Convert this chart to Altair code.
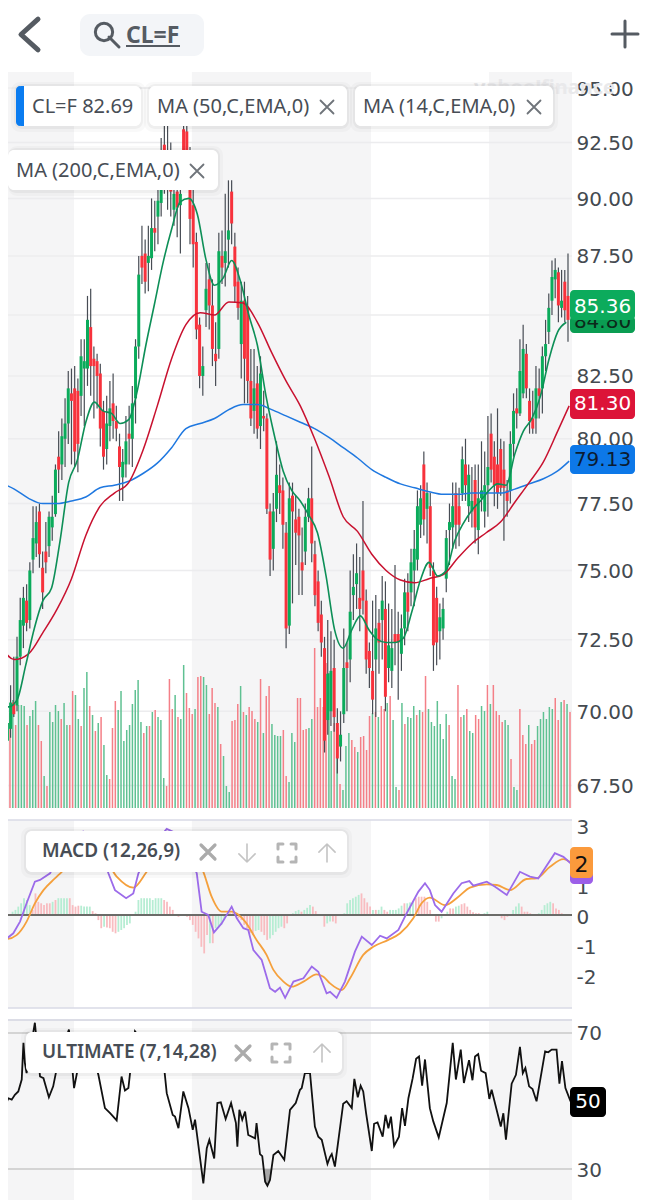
import altair as alt
import numpy as np
import pandas as pd

# ---------- candles (price, USD) ----------
opens = [70.0,69.9,69.0,69.4,70.3,70.2,71.9,73.0,73.9,73.2,
 75.4,76.0,77.2,75.1,75.7,75.9,76.6,77.1,79.3,79.0,
 80.0,80.6,81.8,82.0,81.9,81.7,82.8,82.8,84.5,83.2,
 83.1,82.6,81.1,79.6,80.5,81.4,80.7,79.7,78.5,79.0,
 80.2,80.0,81.6,83.7,87.5,87.6,87.2,87.4,88.7,89.2,
 89.8,92.4,90.8,91.8,89.5,90.3,89.7,93.1,93.0,90.6,
 89.7,88.1,84.6,82.5,85.2,86.5,85.4,83.4,83.6,87.5,
 87.2,88.2,90.3,87.9,86.4,83.8,85.6,85.3,82.3,81.1,
 82.2,80.5,80.9,80.8,77.2,75.8,77.3,78.2,78.0,76.4,
 73.0,77.8,76.9,77.0,75.3,75.7,77.0,77.7,75.6,74.6,
 73.4,72.2,69.7,70.0,71.5,69.6,68.8,69.9,71.7,71.8,
 74.1,74.5,74.0,75.0,73.9,72.1,71.4,71.8,73.1,73.2,
 73.6,71.5,71.4,72.7,72.7,72.0,72.9,74.2,74.2,75.0,
 75.4,76.7,79.0,77.3,77.4,75.0,74.0,72.8,72.9,74.7,
 76.5,76.6,77.9,77.4,77.9,79.0,77.4,77.2,78.4,76.5,
 77.7,77.2,78.2,80.2,79.3,79.0,79.6,78.8,78.0,78.0,
 79.8,81.2,81.0,81.8,83.4,81.5,80.8,80.8,82.0,82.0,
 83.3,84.3,85.6,86.5,86.8,85.3,86.4,85.8]
highs = [70.9,70.4,70.0,70.9,71.9,72.6,74.0,74.4,74.5,75.3,
 77.4,77.4,77.5,75.7,76.8,77.2,77.8,79.0,80.3,80.8,
 81.6,82.7,82.8,82.9,82.4,84.0,84.0,85.8,86.1,83.7,
 83.4,83.0,81.5,81.7,82.3,82.6,81.3,80.2,79.6,80.9,
 81.3,82.1,84.0,87.5,88.8,88.2,88.8,90.0,89.9,90.9,
 92.7,93.3,93.8,92.5,91.5,91.3,91.0,95.0,94.0,92.3,
 90.5,88.5,84.9,83.7,87.2,87.2,86.5,84.7,88.5,88.6,
 90.2,90.8,90.8,88.5,87.0,86.4,86.4,85.8,83.6,83.6,
 82.9,83.3,81.9,81.0,77.5,77.9,79.9,79.0,78.5,76.8,
 78.3,78.3,77.8,77.3,76.6,77.5,78.1,79.7,76.1,75.0,
 73.9,72.6,73.2,72.8,72.5,70.1,70.0,72.9,72.4,75.0,
 75.6,76.0,75.5,77.6,74.3,72.4,73.9,74.1,73.6,74.8,
 74.6,73.8,73.6,75.2,73.5,73.4,74.7,74.9,75.8,76.5,
 78.0,78.2,79.5,78.3,77.9,75.3,74.4,73.8,74.0,76.5,
 77.5,78.3,78.3,78.1,79.7,80.0,79.0,78.9,79.0,79.0,
 79.9,79.5,80.9,81.0,79.9,81.2,80.0,79.9,78.4,80.3,
 81.8,82.0,84.0,84.6,83.8,82.0,81.9,82.9,82.8,83.7,
 84.8,85.9,87.3,87.4,87.0,86.9,86.9,87.6]
lows = [68.9,67.7,68.4,69.1,69.8,70.0,71.6,72.2,72.8,72.9,
 74.9,75.5,75.1,73.6,74.9,75.5,76.1,77.0,77.9,78.4,
 78.9,79.8,79.0,78.9,78.7,80.9,80.5,82.1,81.7,80.8,
 81.2,79.7,78.8,79.0,79.9,80.0,79.9,77.6,77.6,78.5,
 79.0,78.9,80.6,83.2,86.3,85.9,86.0,86.9,87.7,88.0,
 89.2,90.2,89.5,89.2,88.8,88.3,87.6,90.5,90.8,88.0,
 87.0,84.0,82.0,81.7,84.5,84.4,82.9,82.1,83.2,86.3,
 86.2,87.0,88.0,85.5,84.8,82.4,81.4,81.4,80.5,80.2,
 80.0,79.6,80.3,77.1,74.8,75.0,76.8,77.1,75.8,72.2,
 72.7,73.8,75.2,74.1,74.1,75.2,76.8,75.3,73.7,72.8,
 71.9,68.6,69.2,69.5,69.3,67.9,68.3,69.6,70.0,71.0,
 73.2,73.6,72.8,73.4,71.3,70.8,69.9,69.8,71.3,71.8,
 70.0,71.0,70.8,71.6,70.4,71.4,72.3,72.8,73.7,73.7,
 75.0,76.2,76.3,76.0,74.8,71.4,71.6,71.8,72.5,74.2,
 75.2,75.8,75.8,75.9,77.6,77.6,76.8,76.6,76.0,75.6,
 77.2,76.6,77.0,78.3,77.4,77.3,77.8,76.1,77.0,77.5,
 79.3,80.4,80.9,81.6,81.6,80.2,80.2,80.2,80.8,81.0,
 82.7,83.8,85.0,85.7,84.7,84.9,84.7,83.9]
closes = [69.3,68.2,69.6,70.3,69.9,71.9,73.2,74.0,73.1,75.0,
 76.2,76.8,75.6,74.2,75.3,77.0,77.0,78.8,78.8,80.1,
 80.6,82.0,81.5,79.5,79.8,83.3,83.1,84.8,82.9,82.9,
 82.5,80.4,79.3,80.6,81.2,80.7,80.4,78.9,79.1,79.9,
 80.0,81.4,83.7,86.7,87.0,86.4,87.5,88.7,88.5,89.9,
 91.0,91.0,92.1,90.3,90.2,89.6,90.2,91.5,91.8,89.1,
 88.0,84.4,82.5,82.9,86.1,85.4,83.6,83.1,87.7,87.0,
 87.7,88.6,88.9,86.2,85.3,85.6,83.2,82.3,80.8,82.0,
 80.4,82.6,80.8,77.3,75.4,77.2,78.6,77.9,76.7,72.9,
 77.7,77.2,76.4,76.3,75.0,77.0,77.7,76.0,74.1,73.1,
 72.4,69.0,71.3,71.4,69.8,68.4,69.2,71.5,71.5,73.5,
 74.4,74.9,73.6,73.9,71.8,71.5,70.4,72.9,72.4,73.9,
 70.5,72.3,72.2,72.4,72.4,72.9,74.2,73.5,75.3,75.8,
 77.4,77.7,76.9,77.9,75.1,72.3,72.4,73.3,73.6,76.2,
 76.8,77.4,76.7,76.7,79.2,78.2,78.6,77.6,76.6,77.7,
 78.0,78.2,78.9,78.8,78.2,77.9,78.1,78.1,77.6,79.8,
 81.1,81.0,82.7,83.6,82.0,80.7,80.4,82.0,81.7,83.3,
 83.8,85.3,86.6,86.9,85.4,85.6,85.2,84.8]

# ---------- volume (thousands; negative = down day) ----------
volume_left = [-108,-108,103,-95,108,-83,103,103,102,-83,92,98,107,-83,-67,32,-22,96,86,103,
 97,-89,105,83,-83,-117,113,89,-82,120,136,-102,93,-77,85,-91,63,33,-29,-80,
 -107,98,117,67,78,83,104,118,128,86,-75,82,-82,96,-98,91,88,30,-22,-129,
 -99,113,-91,89,143,-115,-100,-94,99,-131,-132,131,123,-94,-120,-105,101,-64,52,22,
 16,-87,-88,-104,122,-96,93,-101,-97,-89,86,-129,75,-112,-122,84,73,72,72,-78,
 -32,26,75,66,-110,-110,-78,-79,80,89,-160,-101,-110,-101,-145,135]
volume_right = [77,-85,77,-24,18,62,75,-68,-61,56,-71,-72,-58,-92,95,-96,91,-102,-99,105,
 -112,88,21,-18,105,-84,91,90,102,-93,98,-96,-132,99,86,82,107,84,69,94,
 -83,32,29,-123,-91,93,-99,77,75,-93,-89,102,97,-123,104,-123,-97,-93,-86,88,
 83,-49,21,18,-99,-73,-64,83,-64,-68,82,89,96,89,101,99,-110,-88,106,-108,104,-96]

# ---------- moving averages ----------
ema200 = [78.3,78.05,77.7,77.5,77.5,77.6,77.75,78.1,78.2,78.35,78.65,79.05,79.65,80.4,80.6,80.8,81.15,81.35,81.35,81.15,
 80.9,80.65,80.4,80.05,79.65,79.25,78.8,78.5,78.25,78.1,77.95,77.85,77.85,77.9,77.9,77.9,78.05,78.25,78.45,78.75,79.13]
ema50 = [72.3,71.8,72.0,72.75,73.6,74.7,76.3,77.4,77.9,78.3,79.55,81.3,83.2,84.6,85.1,85.0,85.55,85.5,84.7,83.45,
 82.3,81.3,80.0,78.55,77.0,76.45,75.6,75.0,74.65,74.55,74.7,74.85,75.45,76.0,76.4,76.8,77.55,78.3,79.1,80.3,81.3]
ema14 = [70.5,70.15,70.4,71.6,72.9,73.9,74.35,76.1,78.3,79.15,80.65,81.45,81.1,81.0,80.6,80.75,81.9,83.75,85.45,87.2,
 88.65,89.85,90.0,89.3,87.35,86.25,86.55,87.3,86.45,85.0,83.75,81.7,80.1,78.75,78.0,77.6,77.05,76.4,74.8,72.85,
 72.2,72.85,73.35,72.85,72.5,72.4,72.4,72.55,73.5,74.65,75.3,74.8,75.0,76.1,76.75,77.25,77.6,78.0,78.25,78.2,
 79.4,80.3,80.8,81.7,83.2,84.3,84.7]

# ---------- MACD ----------
macd_days = [0,1.75,4.66,7,9.3,12.2,14,17.5,19.2,24.5,29.1,33.8,37.9,40.2,44.1,46.6,48.4,53.6,58.3,62.9,
 68.8,70.5,72.8,74.8,77.5,81,82.8,85.1,86.8,88.6,91.5,94.4,96.2,97.9,99.7,102.6,106.1,109,111.3,114.2,
 115.4,117.7,120.6,124.1,126.5,130,132.9,135.2,139.3,142.2,146.3,148.6,150.3,152.1,154.4,158.5,161.4,164.1,165.5,170.2,
 173.1,177.2,181.8,185.3,188.2,194,197,199.9]
macd_vals = [-.69,-.83,-.61,-.22,.39,1.11,1.17,1.39,1.72,2.56,2.78,2.56,1.39,.83,.56,.72,1.39,2.33,2.87,2.67,
 1.39,.11,0,-.58,-.28,.28,-.11,-.44,-.5,-1.17,-1.5,-2.44,-2.56,-2.42,-2.76,-2.22,-2.11,-1.72,-1.89,-2.61,
 -2.56,-2.76,-2.22,-1.22,-.72,-1,-.69,-.78,-.5,.06,.78,1.06,.83,.33,.11,.72,1.06,1.13,.98,1.11,
 .94,.67,1.44,1.28,1.22,2.06,1.94,1.69]
signal_days = [0,2.3,5.8,9.3,12.2,15.2,19.2,21.6,29.1,35,40.8,46.6,51.3,58.3,65.3,71.1,74,77.5,81,85.7,
 89.7,93.2,95.6,99.1,102,106.1,110.7,113.1,115.4,119.5,122.4,127,130.5,135.8,139.9,144.5,147.4,150.3,155.6,160.3,
 164.3,170.2,173.7,178.3,184.1,187.6,192.3,197,199.9]
signal_vals = [-.78,-.8,-.67,-.22,.39,.83,1.22,1.44,2.2,2.1,1.28,.91,1.44,2.4,2.2,1.44,.61,.11,.11,-.22,
 -.83,-1.33,-1.83,-2.22,-2.39,-2.22,-1.98,-2.06,-2.28,-2.5,-2.11,-1.33,-1.06,-.83,-.61,-.11,.39,.58,.33,.61,
 .91,1.02,1.0,.83,1.2,1.22,1.61,1.86,1.72]
hist_vals = [0,0,0,0,.11,.17,.28,.39,.56,.5,
 .33,.17,.72,.44,.39,.33,.39,.39,.44,.5,
 .56,.56,.56,.56,.56,.33,.28,.31,.31,.28,
 .28,.28,.13,.06,-.17,-.44,-.39,-.42,-.44,-.56,
 -.61,-.56,-.5,-.44,-.33,-.28,0,.11,.5,.56,
 .56,.56,.56,.5,.56,.56,.56,.5,.44,.28,
 .17,0,-.06,0,0,-.06,-.17,-.33,-.56,-.78,
 -1.06,-1.28,-.67,-.94,-.94,-.44,-.39,-.33,-.17,0,
 .06,.06,0,-.11,-.17,-.33,-.44,-.61,-.67,-.53,
 -.5,-.56,-.67,-.83,-.78,-.67,-.56,-.44,-.39,-.44,
 -.28,0,.06,.13,.17,.11,.17,.24,.33,.28,
 .13,0,0,-.39,-.28,-.22,-.22,-.28,0,0,
 .06,.39,.5,.56,.61,.67,.72,.56,.42,.28,
 .17,.17,.17,.28,.17,.11,.17,.17,.17,.22,
 .31,.39,.39,.42,.44,.56,.61,.61,.61,.44,
 .17,0,-.22,-.22,-.11,0,.11,.22,.22,.28,
 .31,.36,.39,.28,.17,.09,.06,.06,0,.06,
 .11,0,0,0,0,-.11,-.17,-.06,0,.17,
 .28,.39,.28,.11,.11,.06,0,0,.06,.17,
 .33,.39,.44,.39,.22,.17,.06,0,0,0]
hist_dirs = ("gggggggggg" "grrrrrrrgr" "ggggrrrrgg" "ggrrrrgrrr" "rggggggggg"
             "gggggggrrr" "rrrrrrrrrr" "rrrgrggggg" "rrrrrrrrrg" "grrrgggggr"
             "rggggrgggr" "rrrrggrrrr" "ggggggrrrr" "grggrrgggg" "grgggrrrrr"
             "rrrrgggrrg" "grrrrrrrrg" "gggggrrrrg" "ggrrrrrrgg" "gggrrrrrrr")

# ---------- Ultimate oscillator ----------
ult_days = [0,.6,1.4,2.9,4.1,5.2,6.4,7.6,8.2,8.7,9.3,12.2,14,15.2,17.1,18.6,20,22.1,24.1,25.9,
 28,31.5,34.4,36.7,38.5,40.8,42.5,43.7,44.9,46,47.2,51.3,57.1,58.3,60.4,61.2,62.4,64.1,65.9,67.4,
 68.2,71.1,72.3,73.2,74.9,76,77.2,78.9,80.8,82.5,83,83.7,84.7,85.7,86.8,89.2,89.7,90.9,91.7,92.7,
 93.5,94.4,95.6,97.3,99.4,101.4,103.4,104.9,105.5,106.6,108.4,110.1,111.3,112.5,114.5,115.4,116,117.1,120,121.2,
 123,123.9,125.1,126.1,127,128,130,130.8,132,133.8,134.8,135.8,136.7,137.8,139.5,140.6,141.6,142.8,144.3,145.5,
 146.5,147.6,148.6,150.3,151.5,153.4,156.2,158.3,159.4,161.1,162.2,164,165.2,166.1,167.2,168.2,169.8,171.1,171.9,175.1,
 176,176.9,178.9,180.4,181.8,182.8,183.7,185,186.2,187.6,190.6,191.7,192.9,194.6,195.6,196.5,197.7,199.5]
ult_vals = [56.7,54.8,47.6,50.8,50.4,51.8,52.8,56.3,67.1,61.2,58.2,73,57.2,56.7,51.1,54.3,60.2,66,71,53.8,
 63,66,57.7,47.9,46.4,44.3,57.2,53.1,53.8,62.2,70.5,66,62.2,52.3,45.9,45.4,42,52.8,47.9,41.5,
 44.5,25.8,36.1,38.6,33.1,49.4,49.6,44.7,49.4,43.5,36.6,47.4,44.5,46.9,40,39,43.5,34.4,33.8,26.3,
 25.1,26.8,34.1,35.3,32.7,47.4,49.4,53.3,53.8,58.2,58.2,42.5,39.5,38.6,31.5,33.6,34.4,30.7,49.2,49.9,
 47.9,56.5,51.1,54.5,52.8,46.4,35.3,43.3,43.7,39.5,45.9,42,45.4,36.8,39.5,47.9,42.7,50.8,56.7,62.4,
 63.1,54.5,62.2,47.9,44,39.3,49.4,67.1,56.3,65.1,55.3,62,56.1,63.1,63.8,58.9,58.2,50.6,53.3,42.5,
 46.4,38.6,55.1,57.7,65.9,58.2,59.7,54.3,53.5,49.9,64.6,64.3,65.1,65.1,55.1,61.7,53.8,49.9]
oversold_days = [91.9,92.7,93.5,94.4,95.2]
oversold_vals = [30,26.3,25.1,26.8,30]

# ---------- ticks, bands, labels ----------
price_ticks = [67.5,70,72.5,75,77.5,80,82.5,85,87.5,90,92.5,95]
macd_ticks = [3,1,0,-1,-2]
ult_ticks = [70,30]
band_start = [2.8,67.1,171.0]
band_end = [25.9,129.7,200.0]

GREEN, RED = "#0bab5b", "#f7323c"
WICK = "#474c54"
INK = "#474d55"
FONT, AXF = "Noto Sans", "DejaVu Sans"
W = 564
XS = alt.Scale(domain=[2.8, 200], nice=False, zero=False)
PY = alt.Scale(type="log", domain=[66.76, 95.75], nice=False)
MY = alt.Scale(domain=[-3.1, 3.167], nice=False, zero=False)
UY = alt.Scale(domain=[20.9, 73.8], nice=False, zero=False)
X = lambda f: alt.X(f, scale=XS, axis=None)

one = pd.DataFrame({"k": [0]})

def box(x0, x1, y0, y1, color, radius=0, opacity=1.0):
    return alt.Chart(one).mark_rect(color=color, cornerRadius=radius, opacity=opacity).encode(
        x=alt.value(x0), x2=alt.value(x1), y=alt.value(y0), y2=alt.value(y1))

def label(x, y, s, size=20, color=INK, weight="normal", font=FONT, align="left"):
    return alt.Chart(one).mark_text(text=s, align=align, baseline="middle", fontSize=size,
                                    color=color, fontWeight=weight, font=font).encode(
        x=alt.value(x), y=alt.value(y))

def icon(x, y, path, half, color, width=2.0):
    return alt.Chart(one).mark_point(shape=path, size=(2 * half) ** 2, filled=False, color=color,
                                     strokeWidth=width, opacity=1, strokeCap="round", strokeJoin="round").encode(
        x=alt.value(x), y=alt.value(y))

def pill(x0, x1, y0, y1):
    return [box(max(x0 - 5, 0), x1 + 5, y0 - 4, y1 + 6, "#000000", 9, 0.025),
            box(max(x0 - 2, 0), x1 + 2, y0 - 2, y1 + 3, "#000000", 8, 0.04),
            box(x0, x1, y0, y1, "#ffffff", 6)]

CROSS = "M-1,-1L1,1M-1,1L1,-1"
CHEV = "M0.5,-0.9L-0.5,0L0.5,0.9"
PLUS = "M-1,0L1,0M0,-1L0,1"
DOWN = "M0,-1L0,1M-0.9,0.1L0,1L0.9,0.1"
UP = "M0,1L0,-1M-0.9,-0.1L0,-1L0.9,-0.1"
FRAME = "M-1,-0.45L-1,-1L-0.45,-1M0.45,-1L1,-1L1,-0.45M1,0.45L1,1L0.45,1M-0.45,1L-1,1L-1,0.45"

bands = pd.DataFrame({"a": band_start, "b": band_end})
def band_layer():
    return alt.Chart(bands).mark_rect(color="#f5f5f6", clip=True).encode(x=X("a:Q"), x2="b:Q")

# ---------- frames ----------
candle_days = np.linspace(0.35, 198.6, len(closes))
df_c = pd.DataFrame({"day": candle_days, "o": opens, "h": highs, "l": lows, "c": closes})
df_c["col"] = np.where(df_c.c >= df_c.o, GREEN, RED)

vols = volume_left + volume_right
vol_days = np.concatenate([np.linspace(0.5, 115, len(volume_left)), np.linspace(115.8, 199.3, len(volume_right))])
df_v = pd.DataFrame({"day": vol_days, "v": np.abs(vols),
                     "col": ["#5fc192" if v > 0 else "#f47f87" for v in vols]})

df_200 = pd.DataFrame({"day": list(range(0, 200, 5)) + [199], "v": ema200})
df_50 = pd.DataFrame({"day": list(range(0, 200, 5)) + [199], "v": ema50})
df_14 = pd.DataFrame({"day": [3 * k for k in range(len(ema14))], "v": ema14})

# ---------- header ----------
header = alt.layer(
    icon(21.5, 26.5, CHEV, 17, "#555b62", 5),
    box(72, 196, 6, 48, "#f3f5f8", 10),
    alt.Chart(one).mark_point(shape="circle", size=300, filled=False, color="#555b62", strokeWidth=3, opacity=1).encode(
        x=alt.value(96), y=alt.value(24)),
    icon(106, 34, "M-1,-1L1,1", 5, "#555b62", 3),
    label(118, 28, "CL=F", 23, "#555b62", "bold"),
    box(118, 172, 37, 39, "#555b62"),
    icon(617, 26, PLUS, 13, "#555b62", 3),
).properties(width=W, height=52)

# ---------- price panel ----------
def py(f, **kw):
    return alt.Y(f, scale=PY, axis=None, **kw)

price_layers = [
    band_layer(),
    alt.Chart(pd.DataFrame({"t": price_ticks})).mark_rule(color="#ececee", strokeWidth=1.5).encode(
        y=alt.Y("t:Q", scale=PY, axis=alt.Axis(orient="right", values=price_ticks, format=".2f", grid=False,
                                               domain=False, ticks=False, labelFont=AXF, labelFontSize=20,
                                               labelColor="#444a50", labelPadding=4, labelOffset=1, title=None))),
    label(607, 16, "yahoo!finance", 20, "#e9e9eb", "bold", FONT, "right"),
    alt.Chart(df_v).mark_rule(strokeWidth=1.5, clip=True).encode(
        x=X("day:Q"), y=alt.Y("v:Q", scale=alt.Scale(domain=[0, 736], nice=False), axis=None),
        y2=alt.datum(0), color=alt.Color("col:N", scale=None)),
    alt.Chart(df_c).mark_rule(color=WICK, strokeWidth=1.2, clip=True).encode(x=X("day:Q"), y=py("l:Q"), y2="h:Q"),
    alt.Chart(df_c).mark_rule(strokeWidth=3, clip=True).encode(
        x=X("day:Q"), y=py("o:Q"), y2="c:Q", color=alt.Color("col:N", scale=None)),
    alt.Chart(df_200).mark_line(color="#1f78e0", strokeWidth=1.5, clip=True, interpolate="monotone").encode(x=X("day:Q"), y=py("v:Q")),
    alt.Chart(df_50).mark_line(color="#c8112f", strokeWidth=1.5, clip=True, interpolate="monotone").encode(x=X("day:Q"), y=py("v:Q")),
    alt.Chart(df_14).mark_line(color="#0d8f57", strokeWidth=1.6, clip=True, interpolate="monotone").encode(x=X("day:Q"), y=py("v:Q")),
    # last-value tags
    box(562, 627, 244, 261, "#0a9d52", 4),
    label(594.5, 250, "84.80", 20, "#0b2a1a", font=AXF, align="center"),
    box(562, 627, 218, 248, "#0cab5c", 4),
    label(594.5, 235, "85.36", 20, "#ffffff", font=AXF, align="center"),
    box(562, 627, 317, 347, "#dc1438", 4),
    label(594.5, 332, "81.30", 20, "#ffffff", font=AXF, align="center"),
    box(562, 627, 373, 402, "#0d78e8", 4),
    label(594.5, 387.5, "79.13", 20, "#0b1c33", font=AXF, align="center"),
]
# indicator pills (coordinates relative to the panel)
price_layers += pill(8, 133, 14, 54) + [
    box(8, 16, 14, 54, "#0a7cf0", 4),
    box(13, 16, 14, 54, "#0a7cf0"),
    label(24, 35, "CL=F 82.69"),
]
price_layers += pill(141, 339, 14, 54) + [
    label(149, 35, "MA (50,C,EMA,0)"),
    icon(319, 35, CROSS, 6.5, "#6f747a", 1.8),
]
price_layers += pill(347, 545, 14, 54) + [
    label(355, 35, "MA (14,C,EMA,0)"),
    icon(526, 35, CROSS, 6.5, "#6f747a", 1.8),
]
price_layers += pill(0, 210, 78, 118) + [
    label(8, 99, "MA (200,C,EMA,0)"),
    icon(189, 99, CROSS, 6.5, "#6f747a", 1.8),
]
price = alt.layer(*price_layers).resolve_scale(y="independent").properties(width=W, height=736)

# ---------- MACD panel ----------
def my(f, **kw):
    return alt.Y(f, scale=MY, axis=None, **kw)

df_h = pd.DataFrame({"day": np.arange(len(hist_vals)) + 0.4, "v": hist_vals,
                     "col": ["#b6edd3" if d == "g" else "#f8bcc0" for d in hist_dirs]})
df_h = df_h[df_h.v != 0]
df_m = pd.DataFrame({"day": macd_days, "v": macd_vals})
df_s = pd.DataFrame({"day": signal_days, "v": signal_vals})

macd_layers = [
    band_layer(),
    alt.Chart(pd.DataFrame({"t": macd_ticks})).mark_rule(opacity=0).encode(
        y=alt.Y("t:Q", scale=MY, axis=alt.Axis(orient="right", values=macd_ticks, labelExpr="'' + datum.value", grid=False,
                                               domain=False, ticks=False, labelFont=AXF, labelFontSize=20,
                                               labelColor="#444a50", labelPadding=4, labelOffset=2, title=None))),
    alt.Chart(one).mark_rule(color="#d8dae6", strokeWidth=1.5).encode(y=alt.value(0)),
    alt.Chart(one).mark_rule(color="#d8dae6", strokeWidth=1.5).encode(y=alt.value(188)),
    alt.Chart(df_h).mark_rule(strokeWidth=1.8, clip=True).encode(
        x=X("day:Q"), y=my("v:Q"), y2=alt.datum(0), color=alt.Color("col:N", scale=None)),
    alt.Chart(pd.DataFrame({"t": [0]})).mark_rule(color="#6b6b68", strokeWidth=1.8).encode(y=my("t:Q")),
    alt.Chart(df_s).mark_line(color="#f5a03c", strokeWidth=1.8, clip=True, interpolate="monotone").encode(x=X("day:Q"), y=my("v:Q")),
    alt.Chart(df_m).mark_line(color="#9c6bea", strokeWidth=1.8, clip=True).encode(x=X("day:Q"), y=my("v:Q")),
    box(562, 585, 33, 64, "#9c5fe8", 4),
    box(562, 585, 27, 58, "#fb9a3c", 4),
    label(573.5, 45, "2", 22, "#111111", font=AXF, align="center"),
]
macd_layers += pill(18, 339, 11, 52) + [
    label(34, 31, "MACD (12,26,9)", 19, INK, 600),
    icon(200, 32, CROSS, 7, "#ababab", 3.2),
    icon(239, 33, DOWN, 9, "#c4c4c4", 1.6),
    icon(279, 33, FRAME, 9, "#b5b5b5", 3),
    icon(319, 33, UP, 9, "#c4c4c4", 1.6),
]
macd = alt.layer(*macd_layers).resolve_scale(y="independent").properties(width=W, height=188)

# ---------- Ultimate panel ----------
def uy(f, **kw):
    return alt.Y(f, scale=UY, axis=None, **kw)

df_u = pd.DataFrame({"day": ult_days, "v": ult_vals})
df_o = pd.DataFrame({"day": oversold_days, "v": oversold_vals})

ult_layers = [
    band_layer(),
    alt.Chart(pd.DataFrame({"t": ult_ticks})).mark_rule(color="#c9c9c9", strokeWidth=1.5).encode(
        y=alt.Y("t:Q", scale=UY, axis=alt.Axis(orient="right", values=ult_ticks, format="d", grid=False,
                                               domain=False, ticks=False, labelFont=AXF, labelFontSize=20,
                                               labelColor="#444a50", labelPadding=4, labelOffset=1, title=None))),
    alt.Chart(one).mark_rule(color="#dcdde6", strokeWidth=2).encode(y=alt.value(0)),
    alt.Chart(df_o).mark_area(color="#a8a8a8", clip=True).encode(x=X("day:Q"), y=uy("v:Q"), y2=alt.datum(30)),
    alt.Chart(df_u).mark_line(color="#111111", strokeWidth=1.8, clip=True).encode(x=X("day:Q"), y=uy("v:Q")),
    box(562, 598, 67, 97, "#000000", 4),
    label(580, 82, "50", 20, "#ffffff", font=AXF, align="center"),
]
ult_layers += pill(18, 334, 12, 53) + [
    label(34, 32, "ULTIMATE (7,14,28)", 19, INK, 600),
    icon(235, 33, CROSS, 7, "#ababab", 3.2),
    icon(273, 33, FRAME, 9, "#b5b5b5", 3),
    icon(314, 33, UP, 9, "#c4c4c4", 1.6),
]
ult = alt.layer(*ult_layers).resolve_scale(y="independent").properties(width=W, height=180)

chart = alt.vconcat(header, price, macd, ult, spacing=12, bounds="flush").properties(
    padding={"left": -1, "top": 0, "right": 0, "bottom": 0}, background="#ffffff"
).configure_view(stroke=None)

chart.save("out.html", embed_options={"renderer": "svg", "actions": False})
